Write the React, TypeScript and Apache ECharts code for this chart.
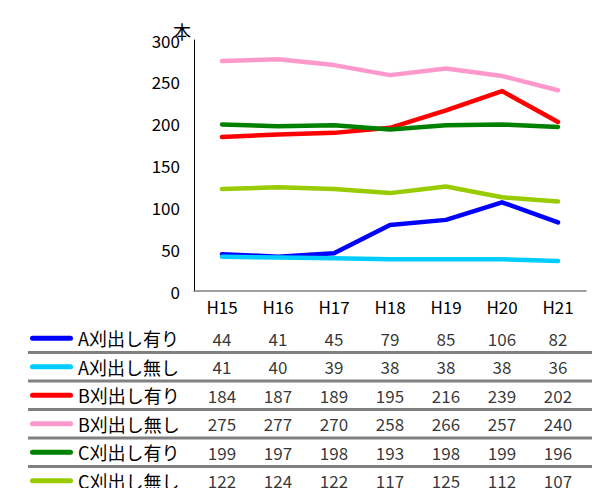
import React, { useEffect, useRef } from "react";
import * as echarts from "echarts";

// Survey years
const categories = ["H15", "H16", "H17", "H18", "H19", "H20", "H21"];

// Row labels of the data table / series names
const seriesNames = [
  "A刈出し有り",
  "A刈出し無し",
  "B刈出し有り",
  "B刈出し無し",
  "C刈出し有り",
  "C刈出し無し",
];

// Counts (本) per year
const aWith = [44, 41, 45, 79, 85, 106, 82];
const aWithout = [41, 40, 39, 38, 38, 38, 36];
const bWith = [184, 187, 189, 195, 216, 239, 202];
const bWithout = [275, 277, 270, 258, 266, 257, 240];
const cWith = [199, 197, 198, 193, 198, 199, 196];
const cWithout = [122, 124, 122, 117, 125, 112, 107];

const yTicks = { min: 0, max: 300, interval: 50 };

const seriesValues = [aWith, aWithout, bWith, bWithout, cWith, cWithout];
const seriesColors = ["#0000ff", "#00ccff", "#ff0000", "#ff99cc", "#008000", "#99cc00"];

const NUM_FONT = '"Noto Sans CJK JP", sans-serif';
const JP_FONT = '"Noto Sans CJK JP", sans-serif';

const GRID_LEFT = 194;
const GRID_RIGHT = 6;

export default function App() {
  const ref = useRef<HTMLDivElement>(null);

  useEffect(() => {
    if (!ref.current) return;
    const chart = echarts.init(ref.current, null, { renderer: "svg" });

    const rich: Record<string, any> = {
      n: {
        fontFamily: JP_FONT,
        fontSize: 18,
        color: "#000",
        padding: [0, 0, 0, 5],
        verticalAlign: "middle",
      },
    };
    seriesColors.forEach((c, i) => {
      rich["l" + i] = {
        backgroundColor: c,
        width: 43,
        height: 5,
        borderRadius: 2.5,
        verticalAlign: "middle",
      };
    });

    const lineSeries = seriesNames.map((name, i) => ({
      name,
      type: "line",
      xAxisIndex: 0,
      yAxisIndex: 0,
      data: seriesValues[i],
      symbol: "none",
      lineStyle: { width: 4.5, color: seriesColors[i], cap: "round", join: "round" },
      itemStyle: { color: seriesColors[i] },
    }));

    const tableSeries = seriesNames.map((name, r) => ({
      name: name + "_table",
      type: "scatter",
      xAxisIndex: 1,
      yAxisIndex: 1,
      symbolSize: 0,
      data: seriesValues[r].map((v, i) => [categories[i], name, v]),
      label: {
        show: true,
        position: "inside",
        formatter: (p: any) => String(p.value[2]),
        fontFamily: NUM_FONT,
        fontSize: 17,
        color: "#000",
      },
    }));

    chart.setOption({
      animation: false,
      backgroundColor: "#fff",
      grid: [
        { left: GRID_LEFT, right: GRID_RIGHT, top: 40, height: 251, outerBoundsMode: "none" },
        { left: GRID_LEFT, right: GRID_RIGHT, top: 324, height: 171, outerBoundsMode: "none" },
      ],
      xAxis: [
        {
          type: "category",
          gridIndex: 0,
          data: categories,
          boundaryGap: true,
          axisLine: { lineStyle: { color: "#808080", width: 1.5 } },
          axisTick: { show: false },
          axisLabel: { fontFamily: NUM_FONT, fontSize: 17, color: "#000", margin: 7 },
        },
        {
          type: "category",
          gridIndex: 1,
          data: categories,
          boundaryGap: true,
          show: false,
        },
      ],
      yAxis: [
        {
          type: "value",
          gridIndex: 0,
          min: yTicks.min,
          max: yTicks.max,
          interval: yTicks.interval,
          name: "本",
          nameLocation: "end",
          nameGap: 0,
          nameMoveOverlap: false,
          nameTextStyle: {
            fontFamily: JP_FONT,
            fontSize: 18,
            color: "#000",
            align: "right",
            padding: [0, 3, 0, 0],
          },
          axisLine: { show: true, lineStyle: { color: "#000", width: 1 } },
          axisTick: { show: false },
          splitLine: { show: false },
          axisLabel: { fontFamily: NUM_FONT, fontSize: 17, color: "#000", margin: 14 },
        },
        {
          type: "category",
          gridIndex: 1,
          data: seriesNames,
          inverse: true,
          boundaryGap: true,
          axisLine: { show: false },
          axisTick: { show: false },
          splitLine: { show: false },
          axisLabel: {
            align: "left",
            margin: GRID_LEFT - 30,
            formatter: (v: string, i: number) => `{l${i}|}{n|${v}}`,
            rich,
          },
        },
      ],
      series: [...lineSeries, ...tableSeries],
    });

    // Row separators of the data table, placed between the table's category bands
    const centers = seriesNames.map(
      (n) => chart.convertToPixel({ yAxisIndex: 1 }, n) as unknown as number
    );
    const band = centers[1] - centers[0];
    const width = chart.getWidth();
    const separators = centers.slice(0, centers.length - 1).map((c) => ({
      type: "line",
      shape: { x1: 28, y1: c + band / 2, x2: width, y2: c + band / 2 },
      style: { stroke: "#808080", lineWidth: 3 },
      silent: true,
    }));
    chart.setOption({ graphic: separators });

    return () => chart.dispose();
  }, []);

  return (
    <div
      ref={ref}
      style={{
        position: "absolute",
        left: 0,
        top: 0,
        width: 592,
        height: 488,
        overflow: "hidden",
        background: "#fff",
      }}
    />
  );
}
